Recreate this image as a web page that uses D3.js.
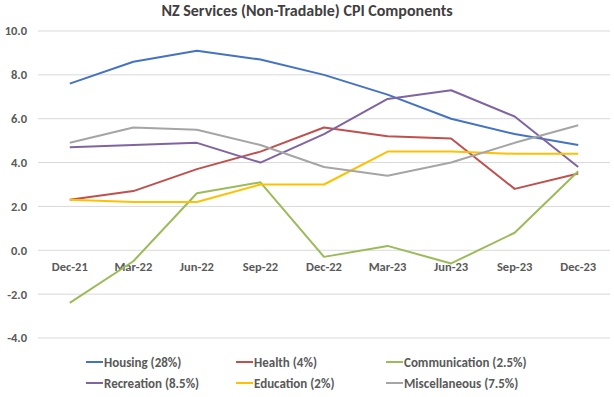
<!DOCTYPE html>
<html>
<head>
    <script src="https://cdnjs.cloudflare.com/ajax/libs/d3/7.8.5/d3.min.js"></script>
    <style>
        body { margin: 0; background: #fff; }
        svg { font-family: Carlito, Lato, "Open Sans", sans-serif; }
        .grid line { stroke: #d9d9d9; stroke-width: 1; }
        .tick-label { fill: #595959; font-size: 12.5px; font-weight: bold; }
        .cat-label { fill: #595959; font-size: 12.5px; font-weight: bold; }
        .legend-text { fill: #595959; font-size: 13px; font-weight: bold; }
    </style>
</head>
<body>
<svg id="chart" width="614" height="397"></svg>
<script>
// chart data
const quarters = ["Dec-21", "Mar-22", "Jun-22", "Sep-22", "Dec-22", "Mar-23", "Jun-23", "Sep-23", "Dec-23"];
const housing = [7.6, 8.6, 9.1, 8.7, 8.0, 7.1, 6.0, 5.3, 4.8];
const health = [2.3, 2.7, 3.7, 4.5, 5.6, 5.2, 5.1, 2.8, 3.5];
const communication = [-2.4, -0.5, 2.6, 3.1, -0.3, 0.2, -0.6, 0.8, 3.6];
const recreation = [4.7, 4.8, 4.9, 4.0, 5.3, 6.9, 7.3, 6.1, 3.8];
const education = [2.3, 2.2, 2.2, 3.0, 3.0, 4.5, 4.5, 4.4, 4.4];
const miscellaneous = [4.9, 5.6, 5.5, 4.8, 3.8, 3.4, 4.0, 4.9, 5.7];
const yTicks = [10, 8, 6, 4, 2, 0, -2, -4];

const series = [
    { name: "Housing (28%)", values: housing, color: "#4472c4" },
    { name: "Health (4%)", values: health, color: "#c0504d" },
    { name: "Communication (2.5%)", values: communication, color: "#9bbb59" },
    { name: "Recreation (8.5%)", values: recreation, color: "#8064a2" },
    { name: "Education (2%)", values: education, color: "#ffc000" },
    { name: "Miscellaneous (7.5%)", values: miscellaneous, color: "#a5a5a5" }
];

const svg = d3.select("#chart");
const plotLeft = 38, plotRight = 610, plotTop = 31, plotBottom = 338;

const x = d3.scalePoint().domain(quarters).range([plotLeft, plotRight]).padding(0.5);
const y = d3.scaleLinear().domain([-4, 10]).range([plotBottom, plotTop]);

// title
svg.append("text")
    .attr("x", 307).attr("y", 16)
    .attr("text-anchor", "middle")
    .attr("fill", "#404040")
    .style("font-size", "16px")
    .style("font-weight", "bold")
    .text("NZ Services (Non-Tradable) CPI Components");

// gridlines
svg.append("g").attr("class", "grid")
    .selectAll("line").data(yTicks).enter().append("line")
    .attr("x1", plotLeft).attr("x2", plotRight)
    .attr("y1", d => y(d)).attr("y2", d => y(d));

// y labels
svg.append("g").selectAll("text").data(yTicks).enter().append("text")
    .attr("class", "tick-label")
    .attr("x", 27).attr("y", d => y(d))
    .attr("dy", "0.35em")
    .attr("text-anchor", "end")
    .text(d => d.toFixed(1));

// category labels sit just under the zero line
svg.append("g").selectAll("text").data(quarters).enter().append("text")
    .attr("class", "cat-label")
    .attr("x", d => x(d)).attr("y", y(0) + 21)
    .attr("text-anchor", "middle")
    .text(d => d);

// lines
const line = d3.line()
    .x((d, i) => x(quarters[i]))
    .y(d => y(d));

svg.append("g").selectAll("path").data(series).enter().append("path")
    .attr("d", d => line(d.values))
    .attr("fill", "none")
    .attr("stroke", d => d.color)
    .attr("stroke-width", 2)
    .attr("stroke-linejoin", "round");

// legend, 3 columns x 2 rows
const legend = svg.append("g").selectAll("g").data(series).enter().append("g")
    .attr("transform", (d, i) => `translate(${86 + (i % 3) * 150}, ${362 + Math.floor(i / 3) * 21})`);

legend.append("line")
    .attr("x1", 0).attr("x2", 17)
    .attr("stroke", d => d.color)
    .attr("stroke-width", 2);

legend.append("text")
    .attr("class", "legend-text")
    .attr("x", 18).attr("dy", "0.35em")
    .text(d => d.name);
</script>
</body>
</html>
